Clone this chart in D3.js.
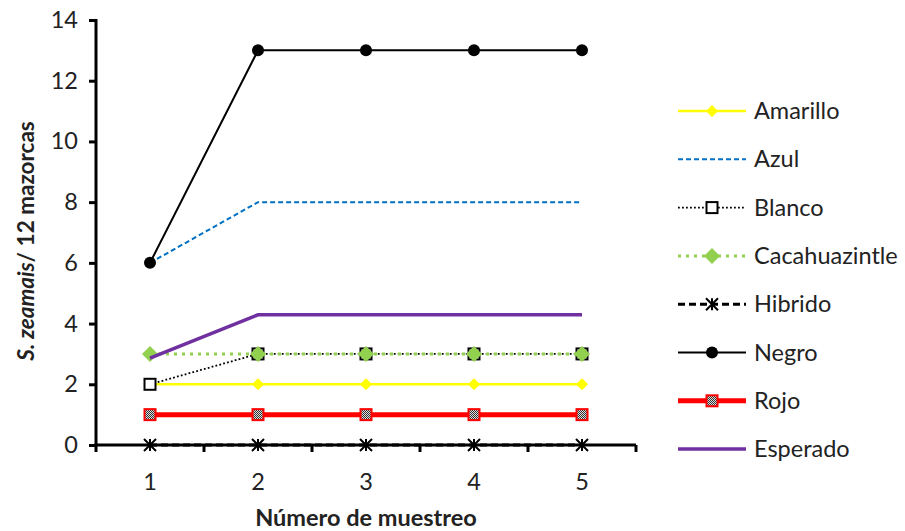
<!DOCTYPE html>
<html><head><meta charset="utf-8">
<script src="https://cdn.jsdelivr.net/npm/d3@7"></script>
<style>body{margin:0;background:#fff}text{font-family:Lato,"Open Sans",sans-serif;fill:#222}</style>
</head><body>
<svg id="c" width="905" height="531"></svg>
<script>
const samples = ["1","2","3","4","5"];
const yTicks = [0,2,4,6,8,10,12,14];
const amarillo = [2,2,2,2,2];
const azul = [6,8,8,8,8];
const blanco = [2,3,3,3,3];
const cacahuazintle = [3,3,3,3,3];
const hibrido = [0,0,0,0,0];
const negro = [6,13,13,13,13];
const rojo = [1,1,1,1,1];
const esperado = [2.86,4.29,4.29,4.29,4.29];

const series = [
 {name:"Amarillo", values:amarillo, color:"#FFFF00", width:2.5, dash:null, marker:"diamondS"},
 {name:"Azul", values:azul, color:"#0070C0", width:2, dash:"5,3", marker:null},
 {name:"Blanco", values:blanco, color:"#000", width:1.8, dash:"1.8,2.2", marker:"square"},
 {name:"Cacahuazintle", values:cacahuazintle, color:"#92D050", width:3, dash:"3,5", marker:"diamondL"},
 {name:"Hibrido", values:hibrido, color:"#000", width:3, dash:"7,4", marker:"star"},
 {name:"Negro", values:negro, color:"#000", width:2, dash:null, marker:"circle"},
 {name:"Rojo", values:rojo, color:"#FF0000", width:5, dash:null, marker:"redsq"},
 {name:"Esperado", values:esperado, color:"#7030A0", width:3.5, dash:null, marker:null}
];

const FS = "23.5px";
const svg = d3.select("#c");
const defs = svg.append("defs");
const pat = defs.append("pattern").attr("id","chk").attr("width",2).attr("height",2).attr("patternUnits","userSpaceOnUse");
pat.append("rect").attr("width",2).attr("height",2).attr("fill","#ddd");
pat.append("rect").attr("width",1).attr("height",1).attr("fill","#333");
pat.append("rect").attr("x",1).attr("y",1).attr("width",1).attr("height",1).attr("fill","#333");

const x = d3.scaleBand().domain(samples).range([96,636]);
const y = d3.scaleLinear().domain([0,14]).range([445,20]);
const cx = d => x(d) + x.bandwidth()/2;

// axes
const ya = svg.append("g").attr("transform","translate(96,0)")
  .call(d3.axisLeft(y).tickValues(yTicks).tickSize(7).tickPadding(11));
ya.select(".domain").attr("stroke","#000").attr("stroke-width",3).attr("d","M0,19V446.5");
ya.selectAll(".tick line").attr("stroke","#000").attr("stroke-width",3);
ya.selectAll(".tick text").style("font-size",FS).attr("fill","#222");

const xa = svg.append("g").attr("transform","translate(0,445)");
xa.append("line").attr("x1",94.5).attr("x2",636).attr("stroke","#000").attr("stroke-width",3);
const bounds = samples.map(s=>x(s)).concat([x(samples[samples.length-1])+x.bandwidth()]);
xa.selectAll(".xt").data(bounds).join("line").attr("x1",d=>d).attr("x2",d=>d)
  .attr("y1",0).attr("y2",7).attr("stroke","#000").attr("stroke-width",3);
xa.selectAll(".xl").data(samples).join("text").attr("x",d=>cx(d)).attr("y",45)
  .attr("text-anchor","middle").style("font-size",FS).text(d=>d);

// titles
svg.append("text").attr("x",366).attr("y",526).attr("text-anchor","middle")
  .style("font-size","23.5px").style("font-weight","bold").text("Número de muestreo");
const yt = svg.append("text").attr("transform","translate(34,241) rotate(-90)").attr("text-anchor","middle")
  .style("font-size","22.5px").style("font-weight","bold");
yt.append("tspan").style("font-style","italic").text("S. zeamais");
yt.append("tspan").text("/ 12 mazorcas");

function drawMarker(g, type, px, py){
  if(type==="diamondS"){
    g.append("path").attr("d",`M${px-6},${py}L${px},${py-6}L${px+6},${py}L${px},${py+6}Z`).attr("fill","#FFFF00");
  } else if(type==="diamondL"){
    g.append("path").attr("d",`M${px-8},${py}L${px},${py-8}L${px+8},${py}L${px},${py+8}Z`).attr("fill","#92D050");
  } else if(type==="square"){
    g.append("rect").attr("x",px-5.5).attr("y",py-5.5).attr("width",11).attr("height",11).attr("fill","#fff").attr("stroke","#000").attr("stroke-width",2);
  } else if(type==="redsq"){
    g.append("rect").attr("x",px-5.5).attr("y",py-5.5).attr("width",11).attr("height",11).attr("fill","url(#chk)").attr("stroke","#FF0000").attr("stroke-width",2);
  } else if(type==="circle"){
    g.append("circle").attr("cx",px).attr("cy",py).attr("r",6).attr("fill","#000");
  } else if(type==="star"){
    const s=6;
    g.append("path").attr("d",`M${px-s},${py-s}L${px+s},${py+s}M${px-s},${py+s}L${px+s},${py-s}M${px},${py-s}L${px},${py+s}`)
      .attr("stroke","#000").attr("stroke-width",2);
  }
}

const line = d3.line().x((d,i)=>cx(samples[i])).y(d=>y(d));
series.forEach(s=>{
  const g = svg.append("g");
  g.append("path").attr("d",line(s.values)).attr("fill","none").attr("stroke",s.color)
    .attr("stroke-width",s.width).attr("stroke-dasharray",s.dash);
  if(s.marker) s.values.forEach((v,i)=>drawMarker(g,s.marker,cx(samples[i]),y(v)));
});

// legend
const leg = svg.append("g");
series.forEach((s,i)=>{
  const ly = 111 + i*48.3;
  const g = leg.append("g");
  g.append("line").attr("x1",678).attr("x2",746).attr("y1",ly).attr("y2",ly)
    .attr("stroke",s.color).attr("stroke-width",s.width).attr("stroke-dasharray",s.dash);
  if(s.marker) drawMarker(g,s.marker,712,ly);
  g.append("text").attr("x",754).attr("y",ly+8).style("font-size",FS).text(s.name);
});
</script>
</body></html>
